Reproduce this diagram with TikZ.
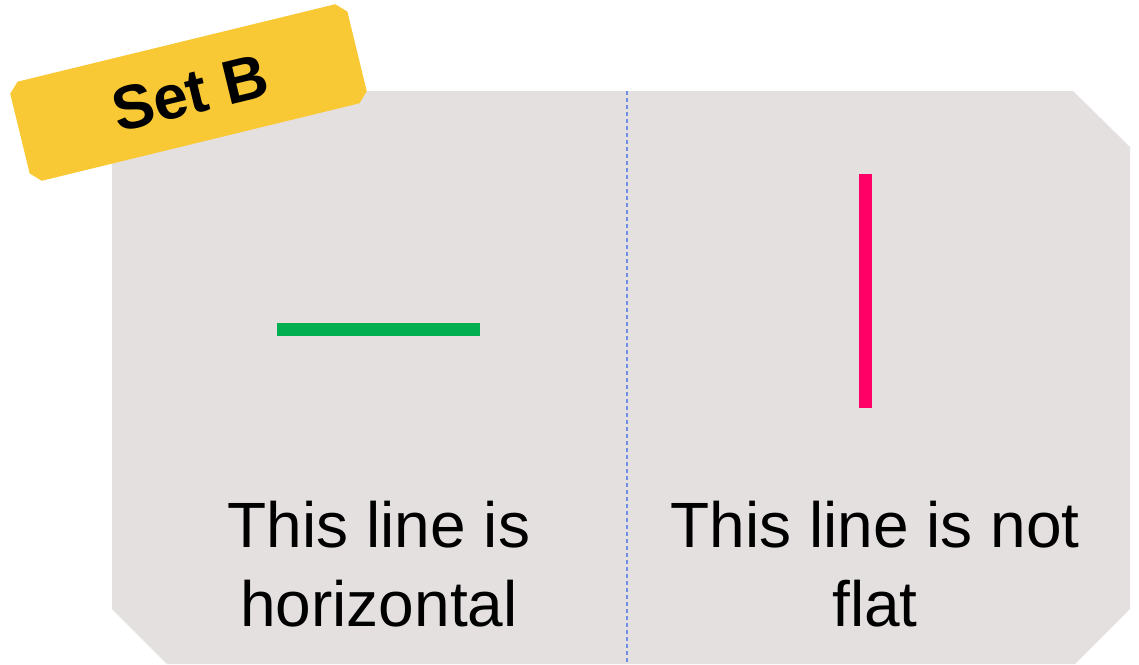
\documentclass[tikz,border=0pt]{standalone}
\usepackage{fontspec}
\setmainfont{Liberation Sans}
\definecolor{panelgray}{HTML}{E4E0E0}
\definecolor{tagyellow}{HTML}{F9C935}
\definecolor{linegreen}{HTML}{00B050}
\definecolor{linepink}{HTML}{FF0066}
\definecolor{divblue}{HTML}{6F8FE6}
\tikzset{
  caption/.style={align=center, anchor=base, text=black, inner sep=0pt,
    font=\fontsize{64}{79}\selectfont},
  tagtext/.style={inner sep=0pt, rotate=13.7, font=\fontsize{62}{70}\selectfont\bfseries},
  sample/.style={line width=13pt, line cap=butt},
  divider/.style={divblue, line width=1.5pt, dash pattern=on 4pt off 3pt}
}
\begin{document}
\begin{tikzpicture}[x=1pt,y=-1pt]
\useasboundingbox (0,0) rectangle (1139,664);
\fill[panelgray] (112,91) -- (1073,91) -- (1130,147) -- (1130,609) -- (1075,664) -- (167,664) -- (112,609) -- cycle;
\coordinate (dtop) at (627,91);
\coordinate (dbot) at (627,664);
\draw[divider] (dtop) -- (dbot);
\coordinate (ga) at (277,329.5);
\coordinate (gb) at (480,329.5);
\draw[sample, linegreen] (ga) -- (gb);
\coordinate (pa) at (865,174);
\coordinate (pb) at (865,408);
\draw[sample, linepink] (pa) -- (pb);
\node[caption] (capL) at (379,626) {This line is\\horizontal};
\node[caption] (capR) at (875,626) {This line is not\\flat};
\begin{scope}[shift={(188.5,92.5)}, rotate=13.7]
\fill[tagyellow] (-163.5,-51) -- (163.5,-51) -- (173.5,-41) -- (173.5,41) -- (163.5,51) -- (-163.5,51) -- (-173.5,41) -- (-173.5,-41) -- cycle;
\end{scope}
\node[tagtext] (tag) at (190,93) {Set B};
\end{tikzpicture}
\end{document}
